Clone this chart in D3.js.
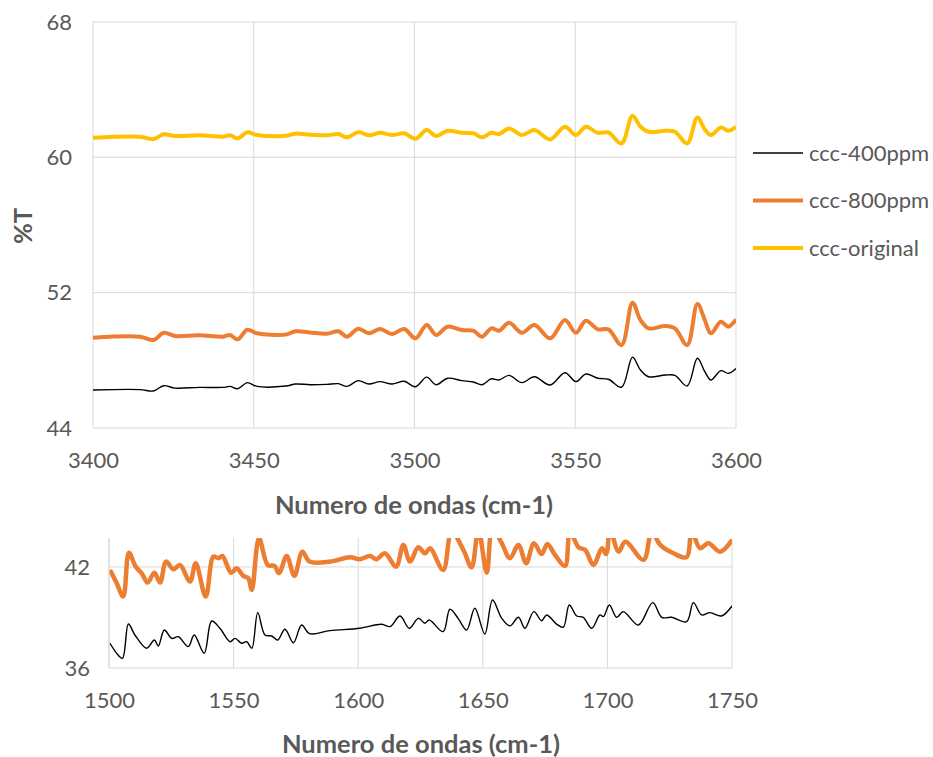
<!DOCTYPE html>
<html>
<head>
<meta charset="utf-8">
<script src="https://cdn.jsdelivr.net/npm/d3@7"></script>
<style>
    body { margin: 0; background: #fff; }
    svg { display: block; font-family: Lato, "Open Sans", sans-serif; }
</style>
</head>
<body>
<svg id="drawing_region"></svg>
<script>
// ---- data ----
const seriesNames = ['ccc-400ppm', 'ccc-800ppm', 'ccc-original'];
const seriesColors = ['#000000', '#ED7D31', '#FFC000'];

// upper panel: 3400-3600 cm-1
const topWn = [3400, 3414.6, 3418.8, 3422, 3425.5, 3433, 3440.5, 3442.6, 3445, 3448,
    3451, 3460, 3463, 3467.5, 3472.7, 3476.3, 3479, 3482.5, 3485.8, 3489.3,
    3493, 3496.8, 3500.3, 3503.8, 3506.7, 3510.3, 3514.7, 3518.3, 3521, 3523.9,
    3526.3, 3529.4, 3533.4, 3537.3, 3542.2, 3546.8, 3550.2, 3553.3, 3557, 3560.3,
    3564.4, 3567.8, 3570.3, 3572.8, 3578, 3581, 3584.8, 3588, 3590.3, 3592.2,
    3595.3, 3597.6, 3600];
const top400 = [46.25, 46.27, 46.19, 46.50, 46.36, 46.40, 46.40, 46.46, 46.32, 46.68,
    46.46, 46.48, 46.60, 46.56, 46.58, 46.62, 46.46, 46.80, 46.60, 46.74,
    46.60, 46.76, 46.44, 47.01, 46.56, 46.94, 46.80, 46.72, 46.56, 46.91,
    46.84, 47.11, 46.68, 47.03, 46.54, 47.27, 46.74, 47.19, 46.94, 46.88,
    46.41, 48.18, 47.43, 47.03, 47.13, 47.11, 46.48, 48.12, 47.33, 46.84,
    47.39, 47.23, 47.52];
const top800 = [49.34, 49.40, 49.20, 49.63, 49.44, 49.48, 49.40, 49.50, 49.24, 49.81,
    49.60, 49.52, 49.72, 49.65, 49.57, 49.72, 49.40, 49.87, 49.60, 49.85,
    49.56, 49.85, 49.30, 50.09, 49.50, 49.99, 49.79, 49.75, 49.40, 49.89,
    49.75, 50.22, 49.63, 50.09, 49.30, 50.38, 49.63, 50.34, 49.83, 49.83,
    48.90, 51.41, 50.38, 49.89, 50.03, 49.89, 48.90, 51.33, 50.38, 49.60,
    50.28, 49.99, 50.42];
const topOrig = [61.16, 61.22, 61.08, 61.36, 61.26, 61.30, 61.22, 61.30, 61.12, 61.48,
    61.32, 61.28, 61.40, 61.34, 61.30, 61.38, 61.18, 61.49, 61.30, 61.45,
    61.32, 61.42, 61.10, 61.61, 61.26, 61.57, 61.45, 61.42, 61.18, 61.45,
    61.38, 61.71, 61.32, 61.61, 61.06, 61.81, 61.32, 61.81, 61.45, 61.47,
    60.82, 62.46, 61.81, 61.51, 61.57, 61.51, 60.82, 62.36, 61.65, 61.32,
    61.77, 61.57, 61.81];

// lower panel: 1500-1750 cm-1
const lowWn400 = [1500.4, 1503.1, 1505.4, 1507.8, 1510.4, 1515.1, 1518.2, 1519.8, 1522.2, 1525.2,
    1527.8, 1531.8, 1534.2, 1538.2, 1541.2, 1544.5, 1548.6, 1550.6, 1553.2, 1555.3,
    1557.3, 1559.7, 1562.6, 1565.3, 1567.7, 1570.6, 1574, 1577.3, 1580.5, 1588.7,
    1600.7, 1609.4, 1612.8, 1616.8, 1620.5, 1624.1, 1626.8, 1628.5, 1634.1, 1636.8,
    1640.1, 1643.5, 1646.8, 1650.8, 1653.9, 1657.6, 1660.9, 1664.3, 1666.9, 1670.5,
    1673.6, 1675.6, 1679.6, 1682.3, 1684.7, 1687.7, 1690.3, 1693.7, 1697, 1698.4,
    1700.8, 1703.7, 1706.4, 1712.4, 1718.2, 1721.8, 1725.8, 1731.8, 1734.5, 1737.8,
    1741.2, 1745.8, 1750];
const low400 = [37.47, 36.87, 36.58, 38.61, 37.96, 37.17, 37.66, 37.31, 38.26, 37.76,
    37.86, 37.27, 37.96, 36.87, 38.79, 38.36, 37.56, 37.76, 37.47, 37.56,
    37.17, 39.29, 37.96, 37.90, 37.66, 38.30, 37.50, 38.55, 38.04, 38.22,
    38.36, 38.60, 38.46, 39.09, 38.36, 38.95, 38.66, 38.85, 38.16, 39.49,
    38.95, 38.26, 39.55, 38.02, 40.04, 38.95, 38.50, 39.01, 38.36, 39.35,
    38.81, 39.15, 38.61, 38.42, 39.74, 39.09, 39.01, 38.36, 39.15, 39.05,
    39.74, 39.01, 39.35, 38.55, 39.88, 39.01, 39.01, 38.75, 39.88, 39.15,
    39.29, 39.09, 39.68];
const lowWn800 = [1500.4, 1503.1, 1505.7, 1508, 1510.7, 1513.1, 1515.5, 1518.2, 1520.5, 1522.9,
    1525.8, 1528.5, 1532.5, 1534.8, 1538.8, 1541.9, 1543.9, 1545.5, 1549, 1551.2,
    1553.9, 1555.9, 1557.3, 1560.2, 1563.7, 1566.4, 1568.2, 1571.3, 1574.4, 1577.6,
    1580.5, 1588.7, 1596.7, 1600.7, 1604.7, 1607.4, 1610.7, 1615.2, 1618.1, 1620.8,
    1624.1, 1626.8, 1628.8, 1634.1, 1637.5, 1642.2, 1645.5, 1648.2, 1651.6, 1653.9,
    1657.6, 1660.9, 1664.3, 1667.4, 1670.5, 1673.6, 1675.9, 1679, 1683, 1685,
    1688.4, 1691.1, 1694.4, 1697.8, 1699.5, 1701.1, 1704.5, 1707.2, 1714.5, 1717.8,
    1721.2, 1726.5, 1731.8, 1733.8, 1737.2, 1740.5, 1745.2, 1750];
const low800 = [41.82, 41.03, 40.24, 42.85, 42.02, 41.63, 41.07, 41.66, 41.07, 42.32,
    41.86, 42.12, 41.13, 42.22, 40.24, 42.61, 42.52, 42.65, 41.66, 41.92,
    41.47, 41.33, 40.63, 43.70, 42.12, 42.06, 41.63, 42.65, 41.47, 42.91,
    42.32, 42.32, 42.58, 42.46, 42.65, 42.46, 42.81, 42.02, 43.31, 42.32,
    43.17, 42.81, 43.11, 41.82, 44.10, 43.01, 41.98, 44.20, 41.66, 44.30,
    43.41, 42.52, 43.31, 42.22, 43.41, 42.77, 43.37, 42.71, 42.06, 44.10,
    43.17, 43.01, 42.12, 43.11, 42.77, 44.20, 42.91, 43.50, 42.42, 44.10,
    43.31, 42.81, 42.58, 44.10, 43.11, 43.41, 42.91, 43.60];

const topXTicks = [3400, 3450, 3500, 3550, 3600];
const topYTicks = [44, 52, 60, 68];
const lowXTicks = [1500, 1550, 1600, 1650, 1700, 1750];
const lowYTicks = [36, 42];

const W = 933, H = 757;
const svg = d3.select('#drawing_region').attr('width', W).attr('height', H);

function drawPanel(cfg) {
    const g = svg.append('g').attr('transform', `translate(${cfg.left}, ${cfg.top})`);
    const x = d3.scaleLinear().domain(cfg.xDomain).range([0, cfg.width]);
    const y = d3.scaleLinear().domain(cfg.yDomain).range([cfg.height, 0]);

    // grid
    g.append('g').selectAll('line.h').data(cfg.yTicks).join('line')
        .attr('x1', 0).attr('x2', cfg.width)
        .attr('y1', d => y(d)).attr('y2', d => y(d))
        .attr('stroke', '#d9d9d9').attr('stroke-width', 1);
    g.append('g').selectAll('line.v').data(cfg.xTicks).join('line')
        .attr('x1', d => x(d)).attr('x2', d => x(d))
        .attr('y1', 0).attr('y2', cfg.height)
        .attr('stroke', '#d9d9d9').attr('stroke-width', 1);

    // axes (labels only)
    const xaxis = d3.axisBottom(x).tickValues(cfg.xTicks).tickFormat(d3.format('d'))
        .tickSize(0).tickPadding(cfg.xPad);
    const yaxis = d3.axisLeft(y).tickValues(cfg.yTicks).tickFormat(d3.format('d'))
        .tickSize(0).tickPadding(cfg.yPad);
    const xg = g.append('g').attr('transform', `translate(0, ${cfg.height})`).call(xaxis);
    const yg = g.append('g').call(yaxis);
    [xg, yg].forEach(a => {
        a.select('.domain').remove();
        a.selectAll('text').attr('fill', '#595959').style('font-size', '22px')
            .style('font-family', 'Lato, "Open Sans", sans-serif');
    });

    // clip and lines
    const clipId = 'clip' + cfg.id;
    g.append('clipPath').attr('id', clipId).append('rect')
        .attr('x', 0).attr('y', 0).attr('width', cfg.width).attr('height', cfg.height);
    const line = d3.line()
        .x(d => x(d[0])).y(d => y(d[1]))
        .curve(d3.curveCatmullRom.alpha(0.5));
    cfg.series.forEach(s => {
        g.append('path')
            .datum(s.wn.map((w, i) => [w, s.values[i]]))
            .attr('clip-path', `url(#${clipId})`)
            .attr('fill', 'none')
            .attr('stroke', s.color)
            .attr('stroke-width', s.width)
            .attr('stroke-linejoin', 'round')
            .attr('d', line);
    });

    // x title
    svg.append('text')
        .attr('x', cfg.titleX).attr('y', cfg.titleY)
        .attr('text-anchor', 'middle')
        .attr('fill', '#595959')
        .style('font-size', '25.5px').style('font-weight', 'bold')
        .text('Numero de ondas (cm-1)');
}

drawPanel({
    id: 'top', left: 93, top: 22, width: 643, height: 406,
    xDomain: [3400, 3600], yDomain: [44, 68],
    xTicks: topXTicks, yTicks: topYTicks, xPad: 24, yPad: 21,
    titleX: 414, titleY: 514,
    series: [
        {wn: topWn, values: top400, color: seriesColors[0], width: 1.4},
        {wn: topWn, values: top800, color: seriesColors[1], width: 4},
        {wn: topWn, values: topOrig, color: seriesColors[2], width: 4}
    ]
});

drawPanel({
    id: 'low', left: 109, top: 538, width: 623, height: 130,
    xDomain: [1500, 1750], yDomain: [36, 43.72],
    xTicks: lowXTicks, yTicks: lowYTicks, xPad: 24, yPad: 19,
    titleX: 421, titleY: 753,
    series: [
        {wn: lowWn400, values: low400, color: seriesColors[0], width: 1.4},
        {wn: lowWn800, values: low800, color: seriesColors[1], width: 4.5}
    ]
});

// left axis line of the lower panel
svg.append('line')
    .attr('x1', 109).attr('x2', 109).attr('y1', 538).attr('y2', 668)
    .attr('stroke', '#d9d9d9');

// y title
svg.append('text')
    .attr('transform', 'translate(32, 226) rotate(-90)')
    .attr('text-anchor', 'middle')
    .attr('fill', '#595959')
    .style('font-size', '25.5px').style('font-weight', 'bold')
    .text('%T');

// legend
const legend = svg.append('g').attr('transform', 'translate(753, 153)');
const items = legend.selectAll('g').data(seriesNames).join('g')
    .attr('transform', (d, i) => `translate(0, ${i * 47.5})`);
items.append('line')
    .attr('x1', 0).attr('x2', 50)
    .attr('stroke', (d, i) => seriesColors[i])
    .attr('stroke-width', (d, i) => i === 0 ? 1.4 : 4);
items.append('text')
    .attr('x', 56).attr('dy', '0.35em')
    .attr('fill', '#595959')
    .style('font-size', '22px')
    .text(d => d);
</script>
</body>
</html>
